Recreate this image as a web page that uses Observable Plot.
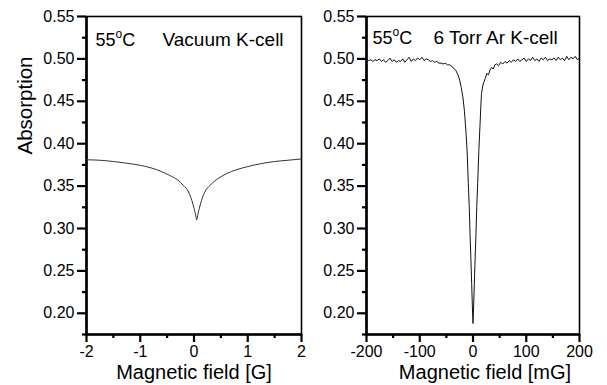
<!DOCTYPE html>
<html><head><meta charset="utf-8">
<script src="https://cdn.jsdelivr.net/npm/d3@7"></script>
<script src="https://cdn.jsdelivr.net/npm/@observablehq/plot@0.6"></script>
<style>
body{margin:0;background:#fff;}
#chart{position:relative;width:607px;height:385px;font-family:"Liberation Sans",Arial,sans-serif;}
#chart svg{position:absolute;top:0;}
</style></head><body><div id="chart"></div>
<script>
// ---- data ----
const yDomain = [0.175, 0.55];
const yMajor = [0.20, 0.25, 0.30, 0.35, 0.40, 0.45, 0.50, 0.55];
const yMinor = [0.175, 0.225, 0.275, 0.325, 0.375, 0.425, 0.475, 0.525];

const leftXDomain = [-2, 2];
const leftXMajor = [-2, -1, 0, 1, 2];
const leftXMinor = [-1.5, -0.5, 0.5, 1.5];

const rightXDomain = [-200, 200];
const rightXMajor = [-200, -100, 0, 100, 200];
const rightXMinor = [-150, -50, 50, 150];

const fieldG = [-2, -1.75, -1.5, -1.25, -1, -0.8, -0.6, -0.45, -0.3, -0.2, -0.1, -0.04, 0, 0.02, 0.04, 0.05, 0.06, 0.08, 0.1, 0.14, 0.2, 0.3, 0.45, 0.6, 0.8, 1.0, 1.25, 1.5, 1.75, 2];
const absVacuum = [0.381, 0.3805, 0.379, 0.377, 0.3745, 0.3715, 0.367, 0.3625, 0.357, 0.351, 0.343, 0.333, 0.324, 0.319, 0.3125, 0.310, 0.3125, 0.319, 0.324, 0.333, 0.343, 0.351, 0.359, 0.3645, 0.3695, 0.373, 0.3765, 0.379, 0.3805, 0.382];

const fieldMG = [-200,-196,-192,-188,-184,-180,-176,-172,-168,-164,-160,-156,-152,-148,-144,-140,-136,-132,-128,-124,-120,-116,-112,-108,-104,-100,-96,-92,-88,-84,-80,-76,-72,-68,-64,
 -60,-56,-52,-48,-44,-40,-36,-32,-28,-25,-22,-19,-16,-13,-11,-8.8,-7,-5.6,-4,-2.5,-1,0,1,2.5,4,5.6,7,8.8,11,13,15,16,18,20,23,26,29,32,35,38,41,44,48,
 52,56,60,64,68,72,76,80,84,88,92,96,100,104,108,112,116,120,124,128,132,136,140,144,148,152,156,160,164,168,172,176,180,184,188,192,196,200];
const absArgon = [0.500,0.498,0.499,0.497,0.499,0.498,0.500,0.497,0.499,0.496,0.498,0.501,0.497,0.499,0.496,0.498,0.497,0.500,0.496,0.499,0.502,0.497,0.500,0.498,0.501,0.499,0.502,0.498,0.500,0.499,0.497,0.498,0.496,0.497,0.495,
 0.495,0.494,0.495,0.493,0.493,0.491,0.489,0.486,0.481,0.475,0.466,0.455,0.438,0.412,0.390,0.353,0.325,0.294,0.265,0.235,0.205,0.188,0.205,0.235,0.265,0.294,0.325,0.353,0.392,0.420,0.448,0.459,0.467,0.472,0.477,0.483,0.481,0.487,0.490,0.488,0.493,0.494,0.492,
 0.496,0.494,0.497,0.495,0.498,0.496,0.499,0.497,0.500,0.497,0.499,0.501,0.497,0.500,0.498,0.502,0.498,0.500,0.497,0.501,0.499,0.502,0.498,0.500,0.499,0.501,0.498,0.502,0.499,0.501,0.498,0.503,0.499,0.502,0.500,0.503,0.499,0.501];

const yTitle = "Absorption";
const leftXTitle = "Magnetic field [G]";
const rightXTitle = "Magnetic field [mG]";
const tempValue = "55";
const tempUnit = "C";
const tempLabel = tempValue + "°" + tempUnit;
const leftCellLabel = "Vacuum K-cell";
const rightCellLabel = "6 Torr Ar K-cell";

// ---- drawing ----
const FONT = "Liberation Sans, Arial, sans-serif";

function panel(o) {
  const data = o.xs.map((x, i) => ({x, y: o.ys[i]}));
  const marks = [
    Plot.frame({stroke: "black", strokeWidth: 1.6}),
    Plot.axisY({ticks: yMajor, tickSize: 9, tickPadding: 3, tickFormat: d3.format(".2f"), stroke: "black", strokeWidth: 2.2, label: null, fontSize: 16, fill: "black"}),
    Plot.axisY({ticks: yMinor, tickSize: 4, tickFormat: () => "", stroke: "black", strokeWidth: 2.2, label: null}),
    Plot.axisX({ticks: o.xMajor, tickSize: 8, tickPadding: 3, tickFormat: d => String(d), stroke: "black", strokeWidth: 2.2, label: null, fontSize: 16, fill: "black"}),
    Plot.axisX({ticks: o.xMinor, tickSize: 4, tickFormat: () => "", stroke: "black", strokeWidth: 2.2, label: null}),
    Plot.ruleX([o.xDomain[0]], {stroke: "black", strokeWidth: 2.6}),
    Plot.ruleY([yDomain[0]], {stroke: "black", strokeWidth: 2.6}),
    Plot.line(data, {x: "x", y: "y", stroke: o.stroke, strokeWidth: 1, curve: o.curve}),
    Plot.text([tempLabel], {text: d => d, frameAnchor: "top-left", dx: o.tempDx, dy: o.labelDy, textAnchor: "start", lineAnchor: "bottom", fontSize: 18, fill: "black", className: "temp-label"}),
    Plot.text([o.cellLabel], {text: d => d, frameAnchor: "top-left", dx: o.cellDx, dy: o.labelDy, textAnchor: "start", lineAnchor: "bottom", fontSize: 19, fill: "black"}),
    Plot.text([o.xTitle], {text: d => d, frameAnchor: "bottom", dx: o.xTitleDx, dy: 44, lineAnchor: "bottom", fontSize: 20, fill: "black"})
  ];
  if (o.yTitle) marks.push(Plot.text([o.yTitle], {text: d => d, frameAnchor: "top-left", dx: -61, dy: 89, rotate: -90, textAnchor: "middle", lineAnchor: "middle", fontSize: 20.5, fill: "black"}));
  const svg = Plot.plot({
    width: o.width, height: 385,
    marginLeft: o.marginLeft, marginRight: o.marginRight, marginTop: 16, marginBottom: 51,
    style: {background: "transparent", fontFamily: FONT, fontSize: "16px", color: "black", overflow: "visible"},
    x: {domain: o.xDomain},
    y: {domain: yDomain},
    marks
  });
  // render the degree sign as a superscript "o", as in the original figure
  svg.querySelectorAll("g.temp-label text").forEach(t => {
    t.textContent = "";
    const ns = "http://www.w3.org/2000/svg";
    const a = document.createElementNS(ns, "tspan"); a.textContent = tempValue;
    const b = document.createElementNS(ns, "tspan"); b.textContent = "o"; b.setAttribute("font-size", "12"); b.setAttribute("dy", "-8");
    const c = document.createElementNS(ns, "tspan"); c.textContent = tempUnit; c.setAttribute("dy", "8");
    t.append(a, b, c);
  });
  svg.style.left = o.left + "px";
  return svg;
}

const chart = document.getElementById("chart");
chart.appendChild(panel({
  left: 0, width: 320, marginLeft: 86, marginRight: 19,
  xDomain: leftXDomain, xMajor: leftXMajor, xMinor: leftXMinor,
  xs: fieldG, ys: absVacuum, stroke: "#333", curve: "monotone-x",
  cellLabel: leftCellLabel, tempDx: 9, cellDx: 76, labelDy: 29,
  xTitle: leftXTitle, xTitleDx: 0, yTitle: yTitle
}));
chart.appendChild(panel({
  left: 300, width: 307, marginLeft: 66, marginRight: 28,
  xDomain: rightXDomain, xMajor: rightXMajor, xMinor: rightXMinor,
  xs: fieldMG, ys: absArgon, stroke: "#111", curve: "linear",
  cellLabel: rightCellLabel, tempDx: 6, cellDx: 67, labelDy: 27,
  xTitle: rightXTitle, xTitleDx: 12
}));
</script></body></html>
